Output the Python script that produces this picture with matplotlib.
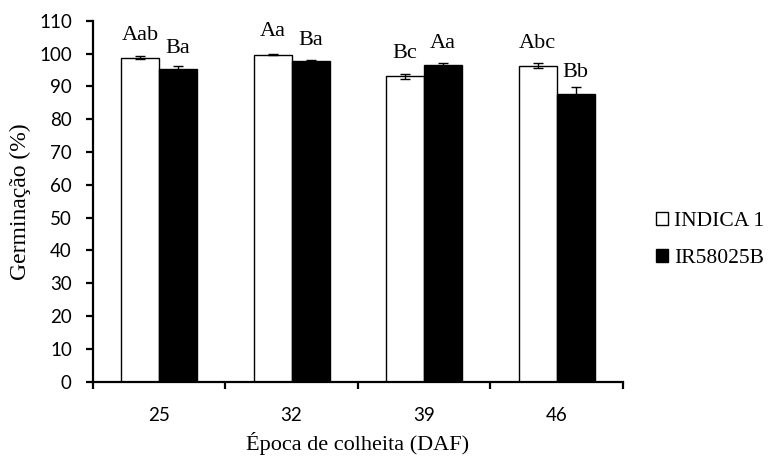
#!/usr/bin/env python3

import matplotlib
matplotlib.use("Agg")
import matplotlib.pyplot as plt
import numpy as np
from matplotlib.patches import Patch


harvest_days = ["25", "32", "39", "46"]
series_names = ["INDICA 1", "IR58025B"]

indica_values = [98.7, 99.7, 93.0, 96.3]
indica_errors = [0.45, 0.2, 0.9, 0.85]
indica_letters = ["Aab", "Aa", "Bc", "Abc"]

ir_values = [95.3, 97.6, 96.6, 87.7]
ir_errors = [1.0, 0.3, 0.6, 1.95]
ir_letters = ["Ba", "Ba", "Aa", "Bb"]

SERIF = "Liberation Serif"
SANS = "Lato"


def main():
    fig = plt.figure(figsize=(7.71, 4.57), dpi=100)
    ax = fig.add_axes([92.7 / 771, 1 - 381.7 / 457, 530.3 / 771, 361 / 457])

    x = np.arange(len(harvest_days))
    width = 0.287

    err_kw = dict(ecolor="black", elinewidth=1.0, capsize=3.6, capthick=1.0)
    ax.bar(x - width / 2, indica_values, width, yerr=indica_errors,
           color="white", edgecolor="black", linewidth=1.0, error_kw=err_kw, zorder=2)
    ax.bar(x + width / 2, ir_values, width, yerr=ir_errors,
           color="black", edgecolor="black", linewidth=1.0, error_kw=err_kw, zorder=2)

    for i in range(len(harvest_days)):
        ax.text(x[i] - width / 2, indica_values[i] + 5.5, indica_letters[i],
                ha="center", va="baseline", fontsize=16, family=SERIF)
        ax.text(x[i] + width / 2, ir_values[i] + 5.0, ir_letters[i],
                ha="center", va="baseline", fontsize=16, family=SERIF)

    ax.set_xlim(-0.5, len(harvest_days) - 0.5)
    ax.set_ylim(0, 110)
    ax.set_yticks(range(0, 111, 10))
    ax.set_xticks(x)
    ax.set_xticklabels(harvest_days)
    ax.set_xticks(np.arange(-0.5, len(harvest_days)), minor=True)

    for side in ["top", "right"]:
        ax.spines[side].set_visible(False)
    for side in ["left", "bottom"]:
        ax.spines[side].set_linewidth(1.6)

    ax.tick_params(axis="x", which="major", length=0, pad=18)
    ax.tick_params(axis="x", which="minor", length=5, width=1.6, direction="out")
    ax.tick_params(axis="y", length=5, width=1.6, direction="out", pad=10)
    for lab in ax.get_xticklabels() + ax.get_yticklabels():
        lab.set_fontfamily(SANS)
        lab.set_fontsize(13.5)

    ax.set_xlabel("Época de colheita (DAF)", fontsize=16, family=SERIF)
    ax.xaxis.label.set_va("baseline")
    ax.xaxis.set_label_coords(0.5, -0.188)
    ax.set_ylabel("Germinação (%)", fontsize=17, family=SERIF)
    ax.yaxis.label.set_va("center")
    ax.yaxis.set_label_coords(-0.137, 0.5)

    handles = [Patch(facecolor="white", edgecolor="black", linewidth=1.0),
               Patch(facecolor="black", edgecolor="black", linewidth=1.0)]
    fig.legend(handles, series_names, loc="center left",
               bbox_to_anchor=(656 / 771, (457 - 240) / 457),
               frameon=False, prop={"family": SERIF, "size": 15.5},
               handlelength=0.55, handleheight=0.55, handletextpad=0.3,
               labelspacing=0.8, borderpad=0, borderaxespad=0)

    fig.savefig("out.png", dpi=100)
    plt.close(fig)


if __name__ == "__main__":
    main()
